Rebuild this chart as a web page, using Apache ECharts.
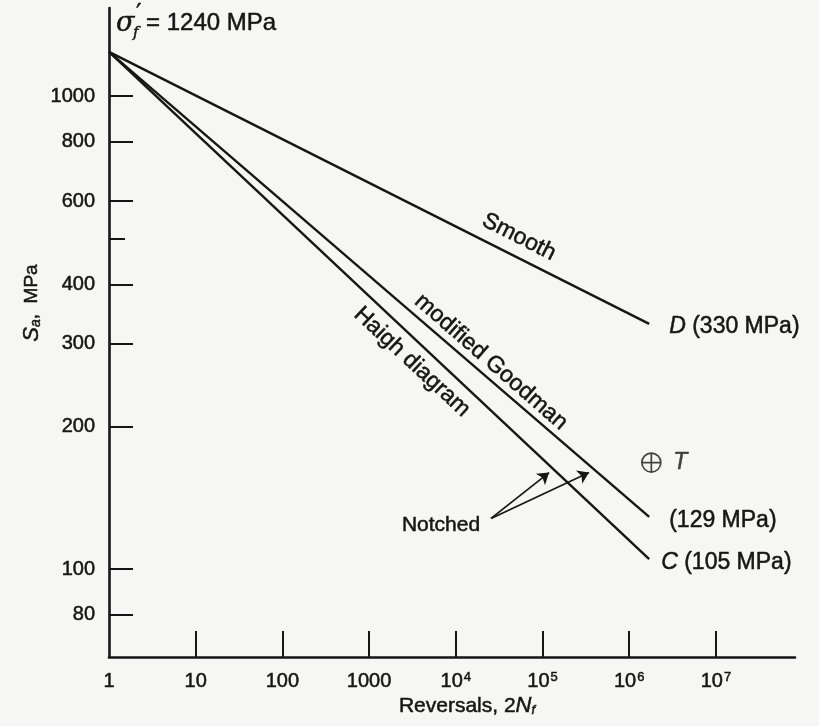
<!DOCTYPE html>
<html>
<head>
<meta charset="utf-8">
<title>S-N lines with mean stress</title>
<script src="https://cdn.jsdelivr.net/npm/echarts@6/dist/echarts.min.js"></script>
<style>
  html, body { margin: 0; padding: 0; background: #f6f6f4; }
  #chart { width: 819px; height: 726px; }
</style>
</head>
<body>
<div id="chart"></div>
<script>
// reversals at the two ends of every line
const reversals = [1, 1.7e6]
const smooth = [1240, 330]
const goodman = [1240, 129]
const haigh = [1240, 105]
const endLabels = ['{i|D} (330 MPa)', '(129 MPa)', '{i|C} (105 MPa)']

// test point T
const pointT = [1.8e6, 168]

// "Notched" arrows: one tail, two tips
const notchedTail = [2.55e4, 128]
const notchedTips = [[1.19e5, 160], [3.44e5, 160]]

const xTickValues = [1, 10, 100, 1000, 1e4, 1e5, 1e6, 1e7]
const xTickLabels = ['1', '10', '100', '1000', '10{sup|4}', '10{sup|5}', '10{sup|6}', '10{sup|7}']
const yTickValues = [80, 100, 200, 300, 400, 600, 800, 1000]
const yMinorTicks = [500]

const ink = '#161616'
const font = '"Liberation Sans", Arial, sans-serif'
// scanned print looks heavier than the screen font, thicken a bit
const heavy = { textBorderColor: ink, textBorderWidth: 0.5 }

const chart = echarts.init(document.getElementById('chart'))

const lineSeries = (name, values, label, offset) => ({
  name,
  type: 'line',
  data: reversals.map((x, i) => [x, values[i]]),
  symbol: 'none',
  lineStyle: { color: ink, width: 2.4 },
  endLabel: {
    show: true,
    formatter: label,
    color: ink,
    fontSize: 23,
    fontFamily: font,
    offset,
    ...heavy,
    rich: { i: { fontStyle: 'italic', fontSize: 23, fontFamily: font, color: ink, ...heavy } }
  },
  z: 3
})

const pickLabel = (v) => {
  const i = xTickValues.findIndex(t => Math.abs(Math.log10(t) - Math.log10(v)) < 1e-6)
  return i >= 0 ? xTickLabels[i] : ''
}

const textStyle = (extra) => ({
  fill: ink,
  stroke: ink,
  lineWidth: 0.5,
  align: 'center',
  verticalAlign: 'middle',
  textAlign: 'center',
  textVerticalAlign: 'middle',
  ...extra
})

const rotatedText = (text, x, y, deg, size) => ({
  type: 'text',
  x, y,
  rotation: -deg * Math.PI / 180,
  style: textStyle({ text, font: size + 'px ' + font })
})

const plainText = (text, x, y, cssFont, align) => ({
  type: 'text',
  x, y,
  style: textStyle({ text, font: cssFont, align: align || 'left', textAlign: align || 'left' })
})

chart.setOption({
  backgroundColor: '#f6f6f4',
  animation: false,
  grid: { left: 109, right: 24, top: 8, bottom: 69 },
  xAxis: {
    type: 'log',
    logBase: 10,
    min: 1,
    max: 8.17e7,
    axisLine: { lineStyle: { color: ink, width: 2.6 } },
    axisTick: {
      customValues: xTickValues.slice(1),
      inside: true,
      length: 26,
      lineStyle: { color: ink, width: 2 }
    },
    axisLabel: {
      customValues: xTickValues,
      formatter: pickLabel,
      margin: 14,
      color: ink,
      fontSize: 20,
      fontFamily: font,
      ...heavy,
      rich: {
        sup: { fontSize: 13, fontFamily: font, color: ink, verticalAlign: 'top', padding: [0, 0, 8, 1], ...heavy }
      }
    },
    splitLine: { show: false },
    minorTick: { show: false }
  },
  yAxis: [
    {
      type: 'log',
      logBase: 10,
      min: 65.2,
      max: 1535,
      axisLine: { show: true, lineStyle: { color: ink, width: 2.6 } },
      axisTick: {
        customValues: yTickValues,
        inside: true,
        length: 24,
        lineStyle: { color: ink, width: 2 }
      },
      axisLabel: {
        customValues: yTickValues,
        formatter: (v) => String(Math.round(v)),
        margin: 14,
        color: ink,
        fontSize: 20,
        fontFamily: font,
        ...heavy
      },
      splitLine: { show: false }
    },
    {
      type: 'log',
      logBase: 10,
      min: 65.2,
      max: 1535,
      position: 'left',
      axisLine: { show: false },
      axisTick: {
        customValues: yMinorTicks,
        inside: true,
        length: 16,
        lineStyle: { color: ink, width: 2 }
      },
      axisLabel: { show: false },
      splitLine: { show: false }
    }
  ],
  series: [
    lineSeries('Smooth', smooth, endLabels[0], [12, 3]),
    lineSeries('modified Goodman', goodman, endLabels[1], [12, 4]),
    lineSeries('Haigh diagram', haigh, endLabels[2], [4, 4]),
    {
      name: 'T',
      type: 'scatter',
      data: [pointT],
      symbol: 'path://M20,10A10,10,0,1,1,0,10A10,10,0,1,1,20,10ZM0,10H20M10,0V20',
      symbolSize: 19,
      itemStyle: { color: 'none', borderColor: ink, borderWidth: 1.7 },
      label: {
        show: true,
        position: 'right',
        distance: 10,
        formatter: 'T',
        color: ink,
        fontSize: 23,
        fontStyle: 'italic',
        fontFamily: font,
        ...heavy
      }
    },
    {
      name: 'Notched',
      type: 'lines',
      coordinateSystem: 'cartesian2d',
      data: notchedTips.map(tip => ({ coords: [notchedTail, tip] })),
      symbol: ['none', 'arrow'],
      symbolSize: 11,
      lineStyle: { color: ink, width: 1.7, opacity: 1, curveness: 0 }
    }
  ],
  graphic: [
    // sigma'_f = 1240 MPa, built from pieces so the prime sits above the f
    plainText('σ', 116, 24, 'italic 27px "DejaVu Serif", serif'),
    plainText('f', 133, 33, 'italic 15px "DejaVu Serif", serif'),
    plainText('′', 136, 15, '24px "DejaVu Sans", sans-serif'),
    plainText('= 1240 MPa', 146, 23, '24px ' + font),
    rotatedText('Smooth', 519, 237, 27, 23),
    rotatedText('modified Goodman', 491, 362, 41, 23),
    rotatedText('Haigh diagram', 412, 362, 43, 23),
    plainText('Notched', 441, 525, '21px ' + font, 'center'),
    {
      type: 'text',
      x: 32, y: 303,
      rotation: Math.PI / 2,
      style: textStyle({
        text: '{s|S}{a|a}{n|,  MPa}',
        rich: {
          s: { fontSize: 22, fontStyle: 'italic', fontFamily: font, fill: ink, stroke: ink, lineWidth: 0.5 },
          a: { fontSize: 14, fontStyle: 'italic', fontFamily: font, fill: ink, padding: [8, 0, 0, 0] },
          n: { fontSize: 19, fontFamily: font, fill: ink, stroke: ink, lineWidth: 0.5 }
        }
      })
    },
    {
      type: 'text',
      x: 467, y: 706,
      style: textStyle({
        text: '{n|Reversals, 2}{N|N}{f|f}',
        rich: {
          n: { fontSize: 21, fontFamily: font, fill: ink, stroke: ink, lineWidth: 0.5 },
          N: { fontSize: 22, fontStyle: 'italic', fontFamily: font, fill: ink, stroke: ink, lineWidth: 0.5 },
          f: { fontSize: 13, fontStyle: 'italic', fontFamily: font, fill: ink, padding: [9, 0, 0, 0] }
        }
      })
    }
  ]
})
</script>
</body>
</html>
